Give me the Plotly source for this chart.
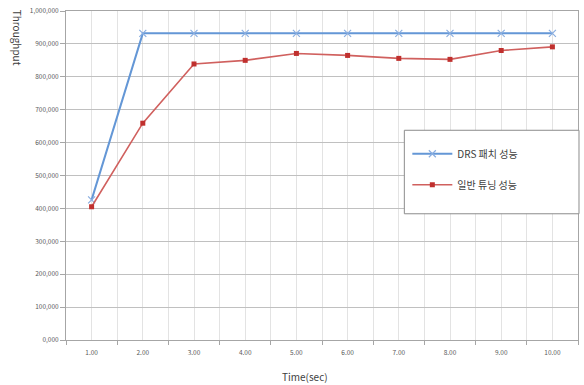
import plotly.graph_objects as go

time_labels = ["1.00", "2.00", "3.00", "4.00", "5.00", "6.00", "7.00", "8.00", "9.00", "10.00"]
drs_patch = [426000, 932000, 932000, 932000, 932000, 932000, 932000, 932000, 932000, 932000]
normal_tuning = [405000, 659000, 839000, 850000, 871000, 865000, 856000, 853000, 880000, 891000]
y_tick_vals = [0, 100000, 200000, 300000, 400000, 500000, 600000, 700000, 800000, 900000, 1000000]
y_tick_text = ["0,000", "100,000", "200,000", "300,000", "400,000", "500,000",
               "600,000", "700,000", "800,000", "900,000", "1,000,000"]

x_idx = list(range(len(time_labels)))
FONT = "Noto Sans CJK KR, Open Sans, sans-serif"

fig = go.Figure()
fig.add_trace(go.Scatter(
    x=x_idx, y=drs_patch, mode="lines+markers", name="DRS 패치 성능",
    line=dict(color="#6497D6", width=2),
    marker=dict(symbol="x-thin", size=7, line=dict(color="#8AAEE0", width=1.2)),
    legendgroup="a",
))
fig.add_trace(go.Scatter(
    x=x_idx, y=normal_tuning, mode="lines+markers", name="일반 튜닝 성능",
    line=dict(color="#D0605E", width=1.6),
    marker=dict(symbol="square", size=5, color="#C0302E"),
    legendgroup="b",
))

# legend frame
fig.add_shape(type="rect", xref="paper", yref="paper",
              x0=(405 - 66) / 513, x1=(580 - 66) / 513,
              y0=(340 - 213) / 331, y1=(340 - 129) / 331,
              line=dict(color="#8C8C8C", width=1), fillcolor="white", layer="above")

fig.update_layout(
    width=584, height=385,
    margin=dict(l=66, r=5, t=9, b=45),
    paper_bgcolor="white", plot_bgcolor="white",
    font=dict(family=FONT, color="#404040"),
    showlegend=True,
    legend=dict(x=(408 - 66) / 513, y=(340 - 138) / 331, xanchor="left", yanchor="top",
                bgcolor="rgba(0,0,0,0)", borderwidth=0,
                font=dict(size=10, color="#404040", family=FONT),
                traceorder="grouped", tracegroupgap=12, itemwidth=40),
    xaxis=dict(
        range=[-0.5, 9.5], tickmode="array", tickvals=x_idx, ticktext=time_labels,
        ticks="", showgrid=True, gridcolor="#E3E3E3", gridwidth=1,
        tickfont=dict(size=6.5, color="#595959"),
        showline=True, linecolor="#A6A6A6", linewidth=1, mirror=True,
        zeroline=False,
        minor=dict(tickvals=[i - 0.5 for i in range(len(time_labels) + 1)],
                   ticks="outside", ticklen=4, tickcolor="#A6A6A6",
                   showgrid=True, gridcolor="#E3E3E3", gridwidth=1),
        ticklabelstandoff=6,
    ),
    yaxis=dict(
        range=[0, 1000000], tickmode="array", tickvals=y_tick_vals, ticktext=y_tick_text,
        ticks="outside", ticklen=5, tickcolor="#A6A6A6",
        showgrid=True, gridcolor="#C0C0C0", gridwidth=1.2,
        tickfont=dict(size=6.5, color="#595959"),
        showline=True, linecolor="#A6A6A6", linewidth=1, mirror=True,
        zeroline=False,
    ),
    annotations=[
        dict(text="Throughput", xref="paper", yref="paper",
             x=(17 - 66) / 513, y=(340 - 36) / 331, xanchor="center", yanchor="middle",
             textangle=90, showarrow=False, font=dict(size=10, color="#404040", family=FONT)),
        dict(text="Time(sec)", xref="paper", yref="paper",
             x=(305 - 66) / 513, y=(340 - 377) / 331, xanchor="center", yanchor="middle",
             showarrow=False, font=dict(size=10, color="#404040", family=FONT)),
    ],
)

fig.write_html("out.html")
